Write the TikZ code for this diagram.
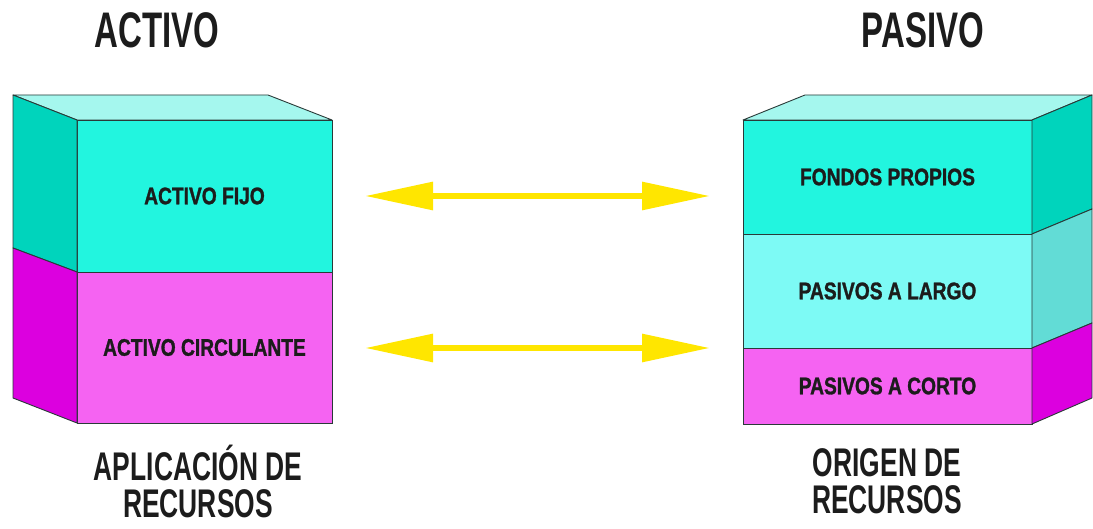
\documentclass[tikz,border=0pt]{standalone}
\usepackage{fontspec}
\newfontfamily\cond{Liberation Sans Bold}[FakeStretch=0.66]
\newfontfamily\condlab{Liberation Sans Bold}[FakeStretch=0.8,FakeBold=1.2]
\usetikzlibrary{calc,arrows.meta}
\definecolor{cyanF}{HTML}{22F5DF}
\definecolor{cyanS}{HTML}{00D4BC}
\definecolor{cyanT}{HTML}{A5F7EE}
\definecolor{magF}{HTML}{F563F2}
\definecolor{magS}{HTML}{DC00DF}
\definecolor{ltcF}{HTML}{7DFAF5}
\definecolor{ltcS}{HTML}{62DCD6}
\definecolor{yel}{HTML}{FFE600}
\definecolor{ink}{HTML}{1C1C1C}
\definecolor{edge}{HTML}{2A3A38}
\tikzset{
  facebox/.style={draw=edge, line width=0.9pt, inner sep=0pt, outer sep=0pt, anchor=north west,
    font=\condlab\fontsize{24}{28}\selectfont, text=ink},
  sideface/.style={draw=edge, line width=0.9pt, line join=round},
  title/.style={font=\cond\fontsize{50}{54}\selectfont, text=ink, inner sep=0pt},
  caption/.style={font=\cond\fontsize{40}{37}\selectfont, text=ink, inner sep=0pt, align=center},
  twoway/.style={draw=yel, line width=6pt, {Triangle[length=68pt,width=27pt]}-{Triangle[length=68pt,width=27pt]}}
}
\begin{document}
\begin{tikzpicture}[x=1pt,y=-1pt]
\useasboundingbox (0,0) rectangle (1093,529);
% left block
\node[facebox, fill=cyanF, minimum width=255pt, minimum height=152pt] (af) at (77,120) {ACTIVO FIJO};
\node[facebox, fill=magF, minimum width=255pt, minimum height=151pt] (ac) at (77,272) {ACTIVO CIRCULANTE};
\filldraw[sideface, fill=cyanT] (af.north west) -- ($(af.north west)+(-64,-25)$) -- ($(af.north east)+(-64,-25)$) -- (af.north east) -- cycle;
\filldraw[sideface, fill=cyanS] (af.north west) -- ($(af.north west)+(-64,-25)$) -- ($(af.south west)+(-64,-24)$) -- (af.south west) -- cycle;
\filldraw[sideface, fill=magS] (ac.north west) -- ($(ac.north west)+(-64,-24)$) -- ($(ac.south west)+(-64,-25)$) -- (ac.south west) -- cycle;
% right block
\node[facebox, fill=cyanF, minimum width=289pt, minimum height=114pt] (fp) at (743,120) {FONDOS PROPIOS};
\node[facebox, fill=ltcF, minimum width=289pt, minimum height=114pt] (pl) at (743,234) {PASIVOS A LARGO};
\node[facebox, fill=magF, minimum width=289pt, minimum height=76pt] (pc) at (743,348) {PASIVOS A CORTO};
\filldraw[sideface, fill=cyanT] (fp.north west) -- ($(fp.north west)+(62,-25)$) -- ($(fp.north east)+(60,-25)$) -- (fp.north east) -- cycle;
\filldraw[sideface, fill=cyanS] (fp.north east) -- ($(fp.north east)+(60,-25)$) -- ($(fp.south east)+(60,-25)$) -- (fp.south east) -- cycle;
\filldraw[sideface, fill=ltcS] (pl.north east) -- ($(pl.north east)+(60,-25)$) -- ($(pl.south east)+(60,-25)$) -- (pl.south east) -- cycle;
\filldraw[sideface, fill=magS] (pc.north east) -- ($(pc.north east)+(60,-25)$) -- ($(pc.south east)+(60,-26)$) -- (pc.south east) -- cycle;
% titles
\node[title] (tA) at (157,30) {ACTIVO};
\node[title] (tP) at (923,30) {PASIVO};
\node[caption] (cA) at (198,481) {APLICACIÓN DE\\RECURSOS};
\node[caption] (cP) at (887,481) {ORIGEN DE\\RECURSOS};
% arrows
\coordinate (a1l) at (365,196);
\coordinate (a1r) at (710,196);
\coordinate (a2l) at (365,348);
\coordinate (a2r) at (710,348);
\draw[twoway] (a1l) -- (a1r);
\draw[twoway] (a2l) -- (a2r);
\end{tikzpicture}
\end{document}
